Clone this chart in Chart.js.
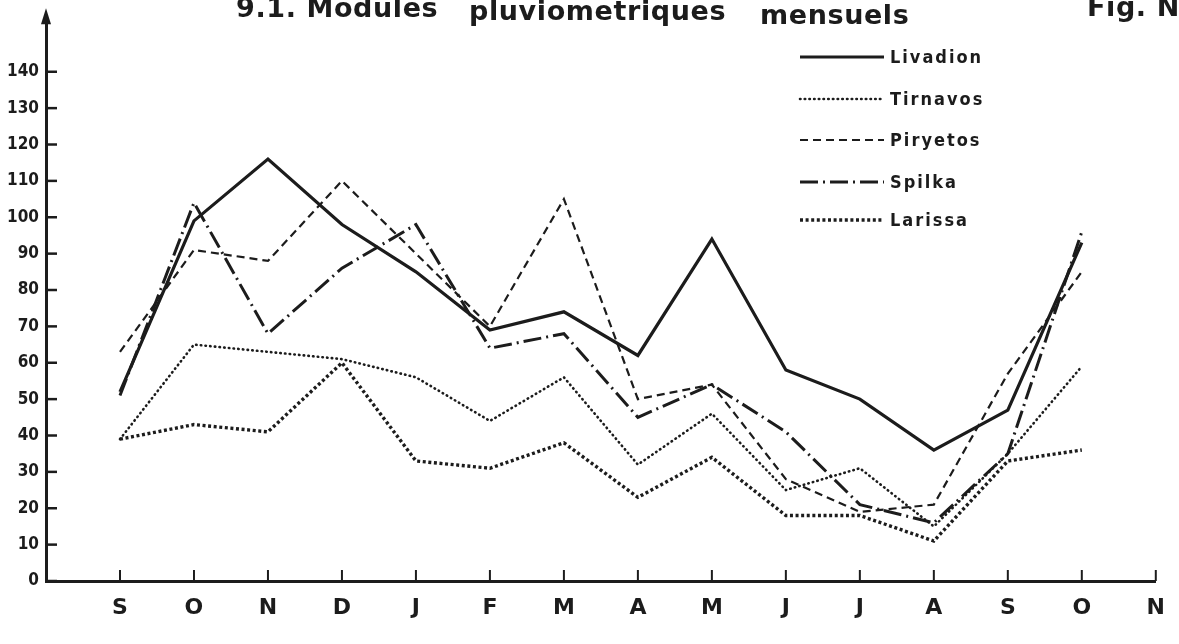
<!DOCTYPE html>
<html>
<head>
<meta charset="utf-8">
<script src="https://cdn.jsdelivr.net/npm/chart.js@4"></script>
<style>
  html, body { margin: 0; padding: 0; background: #ffffff; }
  #wrap { width: 1179px; height: 644px; }
</style>
</head>
<body>
<div id="wrap"><canvas id="c" width="1179" height="644"></canvas></div>
<script>
// Monthly rainfall (mm), September to October of the following year
const months = ['S', 'O', 'N', 'D', 'J', 'F', 'M', 'A', 'M', 'J', 'J', 'A', 'S', 'O', 'N'];
const stations = ['Livadion', 'Tirnavos', 'Piryetos', 'Spilka', 'Larissa'];
const yTicks = [0, 10, 20, 30, 40, 50, 60, 70, 80, 90, 100, 110, 120, 130, 140];

const livadion = [52, 99, 116, 98, 85, 69, 74, 62, 94, 58, 50, 36, 47, 93];
const tirnavos = [39, 65, 63, 61, 56, 44, 56, 32, 46, 25, 31, 15, 35, 59];
const piryetos = [63, 91, 88, 110, 90, 70, 105, 50, 54, 28, 19, 21, 57, 85];
const spilka   = [51, 104, 68, 86, 98, 64, 68, 45, 54, 41, 21, 16, 35, 96];
const larissa  = [39, 43, 41, 60, 33, 31, 38, 23, 34, 18, 18, 11, 33, 36];

const INK = '#1c1c1c';
const FONT = '"DejaVu Sans", "Liberation Sans", sans-serif';
const FONT_NARROW = '"DejaVu Sans Condensed", "DejaVu Sans", sans-serif';

const toPoints = arr => arr.map((v, i) => ({ x: i, y: v }));

const lineStyles = [
  { borderWidth: 3.2, borderDash: [],             borderCapStyle: 'butt'  },
  { borderWidth: 2.6, borderDash: [0.5, 4.2],     borderCapStyle: 'round' },
  { borderWidth: 2.2, borderDash: [8, 5],         borderCapStyle: 'butt'  },
  { borderWidth: 3,   borderDash: [18, 5, 2, 5],  borderCapStyle: 'butt'  },
  { borderWidth: 3.4, borderDash: [3, 2.6],       borderCapStyle: 'butt'  }
];
const series = [livadion, tirnavos, piryetos, spilka, larissa];

const datasets = series.map((arr, i) => Object.assign({
  label: stations[i],
  data: toPoints(arr),
  borderColor: INK,
  backgroundColor: INK,
  pointRadius: 0,
  tension: 0,
  fill: false,
  borderJoinStyle: 'miter'
}, lineStyles[i]));

// Title, legend, inner tick marks and axis arrow
const decorations = {
  id: 'decorations',
  afterDraw(chart) {
    const ctx = chart.ctx;
    const xs = chart.scales.x, ys = chart.scales.y;
    const area = chart.chartArea;
    ctx.save();
    ctx.strokeStyle = INK;
    ctx.fillStyle = INK;

    // tick marks pointing into the plot
    ctx.lineWidth = 2.5;
    ctx.setLineDash([]);
    yTicks.forEach(v => {
      const py = ys.getPixelForValue(v);
      ctx.beginPath();
      ctx.moveTo(area.left, py);
      ctx.lineTo(area.left + 11, py);
      ctx.stroke();
    });
    ctx.lineWidth = 2;
    months.forEach((m, i) => {
      const px = xs.getPixelForValue(i);
      ctx.beginPath();
      ctx.moveTo(px, area.bottom);
      ctx.lineTo(px, area.bottom - 11);
      ctx.stroke();
    });

    // arrow head on the vertical axis
    ctx.beginPath();
    ctx.moveTo(area.left, area.top - 9);
    ctx.lineTo(area.left - 5, area.top + 7);
    ctx.lineTo(area.left + 5, area.top + 7);
    ctx.closePath();
    ctx.fill();

    // title
    ctx.textBaseline = 'alphabetic';
    ctx.textAlign = 'left';
    ctx.font = 'bold 27px ' + FONT;
    ctx.letterSpacing = '0.6px';
    ctx.fillText('9.1. Modules', 236, 17);
    ctx.fillText('pluviometriques', 469, 20);
    ctx.fillText('mensuels', 760, 24);
    ctx.fillText('Fig. Nº', 1087, 16);

    // legend
    const legendY = [57, 99, 140, 182, 220];
    ctx.font = 'bold 18px ' + FONT_NARROW;
    ctx.letterSpacing = '2px';
    ctx.textBaseline = 'middle';
    chart.data.datasets.forEach((ds, i) => {
      const y = legendY[i];
      ctx.lineWidth = ds.borderWidth;
      ctx.lineCap = ds.borderCapStyle;
      ctx.setLineDash(ds.borderDash);
      ctx.beginPath();
      ctx.moveTo(800, y);
      ctx.lineTo(884, y);
      ctx.stroke();
      ctx.setLineDash([]);
      ctx.fillText(ds.label, 890, y + 1);
    });
    ctx.restore();
  }
};

new Chart(document.getElementById('c'), {
  type: 'line',
  data: { datasets },
  plugins: [decorations],
  options: {
    responsive: false,
    devicePixelRatio: 1,
    animation: false,
    layout: { padding: { top: 12, right: 11, left: 0, bottom: 0 } },
    plugins: { legend: { display: false }, tooltip: { enabled: false } },
    scales: {
      x: {
        type: 'linear',
        min: -1,
        max: 14,
        afterBuildTicks: s => { s.ticks = months.map((m, i) => ({ value: i })); },
        afterFit: s => { s.height = 63; },
        grid: { display: false, drawTicks: false },
        border: { display: true, color: INK, width: 3 },
        ticks: {
          autoSkip: false,
          maxRotation: 0,
          padding: 14,
          color: INK,
          font: { family: FONT, size: 22, weight: 'bold' },
          callback: v => months[v]
        }
      },
      y: {
        type: 'linear',
        min: 0,
        max: 155,
        afterBuildTicks: s => { s.ticks = yTicks.map(v => ({ value: v })); },
        afterFit: s => { s.width = 46; },
        grid: { display: false, drawTicks: false },
        border: { display: true, color: INK, width: 3 },
        ticks: {
          autoSkip: false,
          padding: 7,
          color: INK,
          font: { family: FONT_NARROW, size: 17, weight: 'bold' }
        }
      }
    }
  }
});
</script>
</body>
</html>
